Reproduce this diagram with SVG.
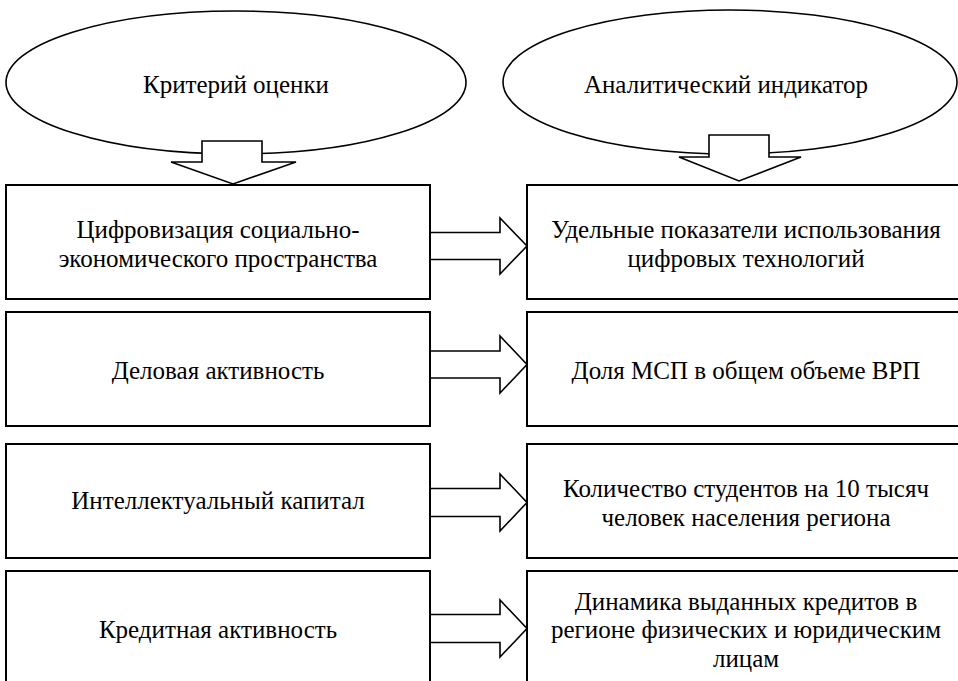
<svg xmlns="http://www.w3.org/2000/svg" width="958" height="681" viewBox="0 0 958 681">
  <style>
    .shape { fill: #ffffff; stroke: #000000; stroke-width: 1.6; }
    .box { fill: #ffffff; stroke: #000000; stroke-width: 2; }
    .arrow { fill: #ffffff; stroke: #000000; stroke-width: 1.6; stroke-linejoin: miter; }
    .t { font-family: "Liberation Serif", "Times New Roman", serif; font-size: 25px; fill: #000000; text-anchor: middle; }
  </style>
  <rect x="0" y="0" width="958" height="681" fill="#ffffff"/>

  <g id="header-left">
    <ellipse class="shape" cx="236" cy="82.5" rx="230" ry="71.5"/>
    <text class="t" x="236" y="93">Критерий оценки</text>
  </g>
  <g id="header-right">
    <ellipse class="shape" cx="730" cy="82" rx="227" ry="72"/>
    <text class="t" x="726" y="93">Аналитический индикатор</text>
  </g>

  <g id="crit-1">
    <rect class="box" x="6" y="185" width="424" height="114"/>
    <text class="t" x="218" y="238">Цифровизация социально-</text>
    <text class="t" x="218" y="267">экономического пространства</text>
  </g>
  <g id="crit-2">
    <rect class="box" x="6" y="312" width="424" height="114"/>
    <text class="t" x="218" y="379">Деловая активность</text>
  </g>
  <g id="crit-3">
    <rect class="box" x="6" y="444" width="424" height="114"/>
    <text class="t" x="218" y="509">Интеллектуальный капитал</text>
  </g>
  <g id="crit-4">
    <rect class="box" x="6" y="571" width="424" height="130"/>
    <text class="t" x="218" y="638">Кредитная активность</text>
  </g>

  <g id="ind-1">
    <rect class="box" x="527" y="185" width="440" height="114"/>
    <text class="t" x="746" y="238">Удельные показатели использования</text>
    <text class="t" x="746" y="267">цифровых технологий</text>
  </g>
  <g id="ind-2">
    <rect class="box" x="527" y="312" width="440" height="114"/>
    <text class="t" x="746" y="379">Доля МСП в общем объеме ВРП</text>
  </g>
  <g id="ind-3">
    <rect class="box" x="527" y="444" width="440" height="114"/>
    <text class="t" x="746" y="497">Количество студентов на 10 тысяч</text>
    <text class="t" x="746" y="526">человек населения региона</text>
  </g>
  <g id="ind-4">
    <rect class="box" x="527" y="571" width="440" height="130"/>
    <text class="t" x="746" y="610">Динамика выданных кредитов в</text>
    <text class="t" x="746" y="638">регионе физических и юридическим</text>
    <text class="t" x="746" y="667">лицам</text>
  </g>

  <g id="connectors">
    <path class="arrow" d="M202,162 V141 H262 V162 H296 L233,184 L171,162 Z"/>
    <path class="arrow" d="M709,157 V135 H769 V157 H801 L739,181 L679,157 Z"/>
    <path class="arrow" d="M431,232.5 H500 V218 L527,246 L500,274 V259.5 H431"/>
    <path class="arrow" d="M431,351 H500 V336 L527,364.5 L500,393 V378 H431"/>
    <path class="arrow" d="M431,488.5 H500 V474 L527,502.5 L500,531 V516.5 H431"/>
    <path class="arrow" d="M431,614.5 H500 V600 L527,628.5 L500,657 V642.5 H431"/>
  </g>
</svg>
